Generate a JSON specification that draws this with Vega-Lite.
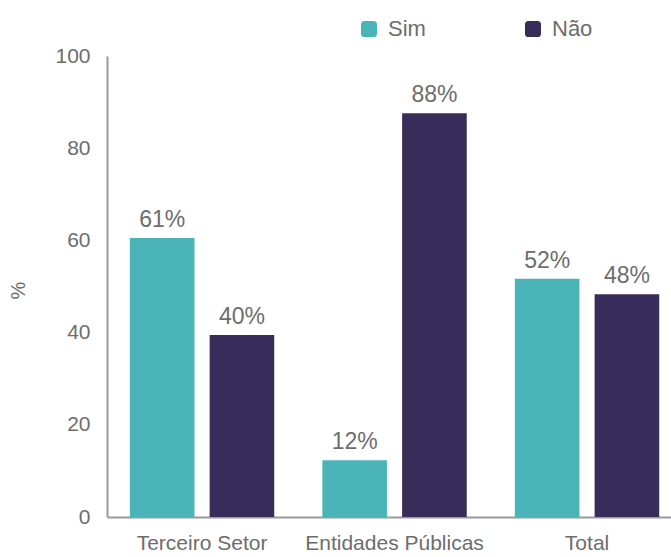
{
  "$schema": "https://vega.github.io/schema/vega-lite/v6.json",
  "autosize": {"type": "none"},
  "width": 564,
  "height": 461,
  "padding": {"left": 107, "top": 56, "right": 0, "bottom": 40},
  "background": "white",
  "config": {
    "view": {"stroke": null},
    "font": "Liberation Sans",
    "axis": {"labelColor": "#6d6d6d", "titleColor": "#6d6d6d", "labelFont": "Liberation Sans", "titleFont": "Liberation Sans", "domainColor": "#9a9a9a", "domainWidth": 2, "ticks": false, "grid": false},
    "legend": {"labelFont": "Liberation Sans"}
  },
  "data": {
    "values": [
      {"grupo": "Terceiro Setor", "resposta": "Sim", "valor": 60.5, "rotulo": "61%"},
      {"grupo": "Terceiro Setor", "resposta": "Não", "valor": 39.5, "rotulo": "40%"},
      {"grupo": "Entidades Públicas", "resposta": "Sim", "valor": 12.3, "rotulo": "12%"},
      {"grupo": "Entidades Públicas", "resposta": "Não", "valor": 87.6, "rotulo": "88%"},
      {"grupo": "Total", "resposta": "Sim", "valor": 51.7, "rotulo": "52%"},
      {"grupo": "Total", "resposta": "Não", "valor": 48.3, "rotulo": "48%"}
    ]
  },
  "encoding": {
    "x": {
      "field": "grupo", "type": "nominal",
      "sort": ["Terceiro Setor", "Entidades Públicas", "Total"],
      "scale": {"paddingInner": 0.25, "paddingOuter": 0.09, "align": 0.66},
      "axis": {"title": null, "labelAngle": 0, "labelFontSize": 21, "labelPadding": 15, "labelLimit": 300}
    },
    "xOffset": {
      "field": "resposta", "type": "nominal",
      "sort": ["Sim", "Não"],
      "scale": {"paddingInner": 0.19, "paddingOuter": 0}
    },
    "y": {
      "field": "valor", "type": "quantitative",
      "scale": {"domain": [0, 100], "nice": false},
      "axis": {"values": [0, 20, 40, 60, 80, 100], "title": "%", "titleFontSize": 20, "titleFontWeight": "normal", "titleAngle": -90, "titleX": -89, "titleY": 234, "titleAlign": "center", "titleBaseline": "middle", "labelFontSize": 21, "labelPadding": 17}
    }
  },
  "layer": [
    {
      "mark": {"type": "bar"},
      "encoding": {
        "color": {
          "field": "resposta", "type": "nominal",
          "sort": ["Sim", "Não"],
          "scale": {"domain": ["Sim", "Não"], "range": ["#4bb4b9", "#382c5a"]},
          "legend": {
            "title": null,
            "orient": "none",
            "direction": "horizontal",
            "legendX": 251,
            "legendY": -38,
            "symbolType": "M-1,-0.55 Q-1,-1 -0.55,-1 L0.55,-1 Q1,-1 1,-0.55 L1,0.55 Q1,1 0.55,1 L-0.55,1 Q-1,1 -1,0.55 Z",
            "symbolSize": 256,
            "symbolStrokeWidth": 0,
            "symbolOpacity": 1,
            "labelFontSize": 22,
            "labelColor": "#6d6d6d",
            "labelOffset": 8,
            "columnPadding": 96
          }
        }
      }
    },
    {
      "mark": {"type": "text", "baseline": "bottom", "dy": -6, "fontSize": 23, "color": "#6d6d6d", "font": "Liberation Sans"},
      "encoding": {
        "text": {"field": "rotulo"}
      }
    }
  ]
}
